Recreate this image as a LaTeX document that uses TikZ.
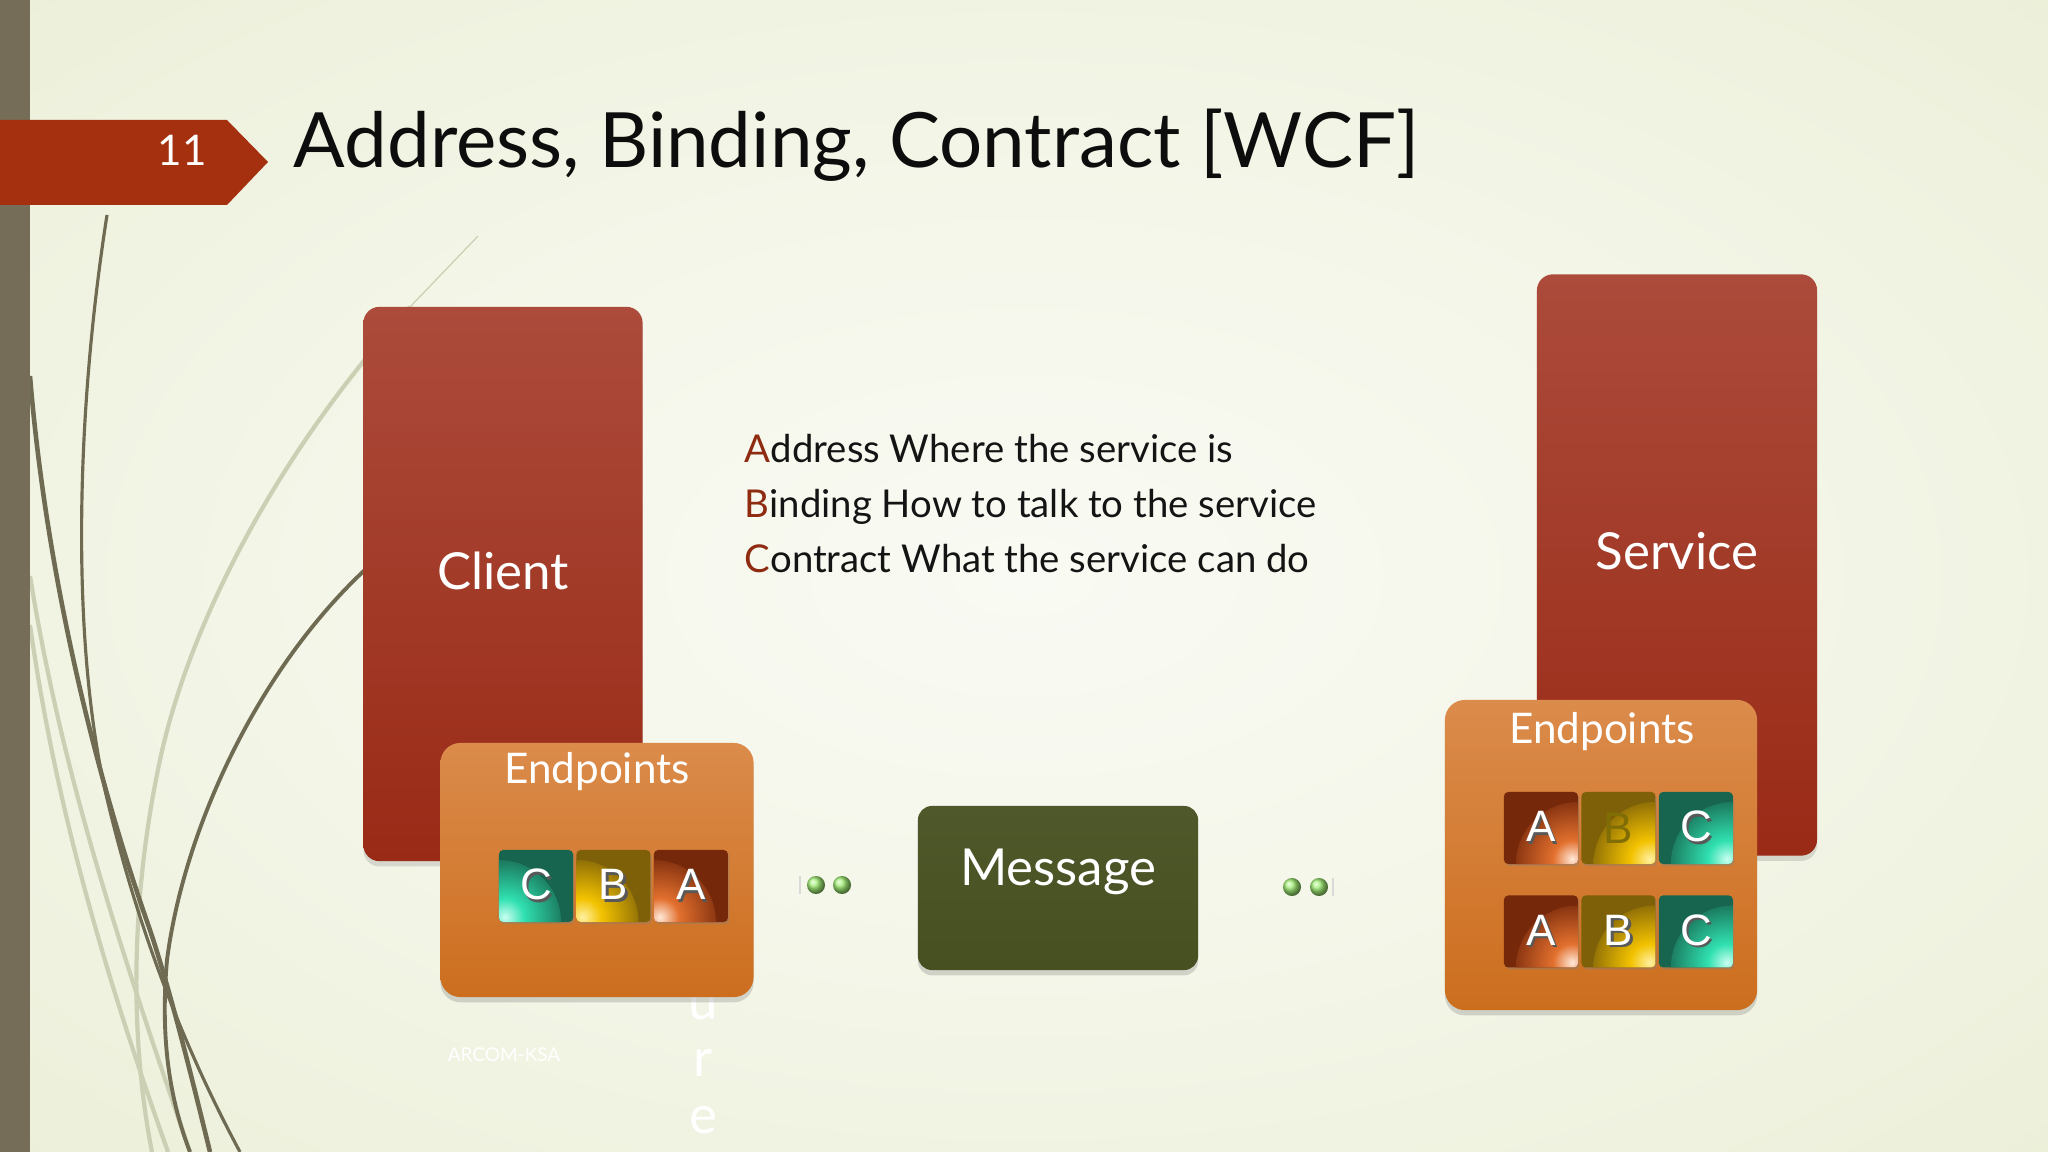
\documentclass[tikz,border=0pt]{standalone}
\usepackage{fontspec}
\setmainfont{Lato}
\newfontfamily\arialfont{Liberation Sans}
\usepackage{tikz}
\usetikzlibrary{shadows,positioning}

\definecolor{bgcenter}{HTML}{F9FAF3}
\definecolor{bginner}{HTML}{F5F7EB}
\definecolor{bgmid}{HTML}{EBEFD7}
\definecolor{bgedge}{HTML}{E0E6C2}
\definecolor{bgcorner}{HTML}{DCE3BC}
\definecolor{sidebar}{HTML}{756D57}
\definecolor{banner}{HTML}{A5300F}
\definecolor{hosttop}{HTML}{AC4B3B}
\definecolor{hostbot}{HTML}{992A16}
\definecolor{eptop}{HTML}{DB8B4B}
\definecolor{epbot}{HTML}{CC6E1E}
\definecolor{msgtop}{HTML}{4F582A}
\definecolor{msgbot}{HTML}{475020}
\definecolor{tealbase}{HTML}{17654E}
\definecolor{tealglow}{HTML}{30E0B0}
\definecolor{tealhi}{HTML}{C8FFF0}
\definecolor{olivebase}{HTML}{7E6008}
\definecolor{oliveglow}{HTML}{F2C200}
\definecolor{olivehi}{HTML}{FFF0A0}
\definecolor{brownbase}{HTML}{76280B}
\definecolor{brownglow}{HTML}{E2702E}
\definecolor{brownhi}{HTML}{FFE8D8}
\definecolor{initial}{HTML}{8E2B10}
\definecolor{dotgreen}{HTML}{A0EC74}
\definecolor{curvedark}{HTML}{6F6A52}
\definecolor{curvelight}{HTML}{CBD0B4}

\pgfdeclareradialshading{slidebg}{\pgfpoint{0bp}{0bp}}{color(0bp)=(bgcenter); color(14bp)=(bginner); color(38bp)=(bgmid); color(60bp)=(bgedge); color(72bp)=(bgcorner)}
\pgfdeclareradialshading{tealshine}{\pgfpoint{0bp}{0bp}}{color(0bp)=(tealhi); color(7bp)=(tealglow); color(24bp)=(tealbase); color(50bp)=(tealbase)}
\pgfdeclareradialshading{oliveshine}{\pgfpoint{0bp}{0bp}}{color(0bp)=(olivehi); color(7bp)=(oliveglow); color(24bp)=(olivebase); color(50bp)=(olivebase)}
\pgfdeclareradialshading{brownshine}{\pgfpoint{0bp}{0bp}}{color(0bp)=(brownhi); color(7bp)=(brownglow); color(24bp)=(brownbase); color(50bp)=(brownbase)}

\newcommand\initialof[1]{\textcolor{initial}{#1}}
\newcommand\tiletext[1]{\rlap{\kern0.7pt\raisebox{-0.7pt}{\color{black!65}#1}}#1}

\tikzset{
  hostbox/.style={rounded corners=0.16cm, top color=hosttop, bottom color=hostbot,
    drop shadow={shadow xshift=0pt, shadow yshift=-1.5pt, opacity=0.25}},
  epbox/.style={rounded corners=0.2cm, top color=eptop, bottom color=epbot,
    drop shadow={shadow xshift=0pt, shadow yshift=-1.5pt, opacity=0.3}},
  msgbox/.style={rounded corners=0.14cm, top color=msgtop, bottom color=msgbot,
    drop shadow={shadow xshift=0pt, shadow yshift=-1.5pt, opacity=0.3}},
  boxtext/.style={text=white, font=\fontsize{14.5}{17}\selectfont},
  eptext/.style={text=white, font=\fontsize{12}{14}\selectfont},
  abctext/.style={anchor=base west, text=black!92, font=\fontsize{10.9}{13}\selectfont, inner sep=0pt},
  tile/.style={minimum width=0.74cm, minimum height=0.72cm, inner sep=0pt, rounded corners=1.2pt,
    text=white, font=\arialfont\fontsize{12.5}{14}\selectfont,
    drop shadow={shadow xshift=0.4pt, shadow yshift=-0.6pt, opacity=0.35}},
  glow/.style n args={3}{fill=#1, path picture={\shade[shading=#2]
    (path picture bounding box.south #3) circle (0.62cm);}},
  dot/.style={circle, minimum size=0.18cm, inner sep=0pt, ball color=dotgreen},
  vletter/.style={text=white, font=\fontsize{15}{17}\selectfont, inner sep=0pt}
}

\begin{document}
\begin{tikzpicture}[x=0.01cm, y=-0.01cm]
  \useasboundingbox (0,0) rectangle (2048,1152);
  \shade[shading=slidebg] (0,0) rectangle (2048,1152);

  % swooshes on the left
  \draw[curvelight, line width=1.2pt] (30,576) .. controls (60,760) and (110,920) .. (190,1152);
  \draw[curvelight, line width=1.2pt] (30,625) .. controls (55,800) and (100,960) .. (168,1152);
  \draw[curvelight, line width=0.35pt] (478,236) -- (410,307);
  \draw[curvelight, line width=1.2pt] (410,307) .. controls (280,450) and (190,620) .. (160,760) .. controls (130,900) and (130,1040) .. (152,1152);
  \draw[curvedark, line width=0.9pt] (107,215) .. controls (75,420) and (72,640) .. (105,790) .. controls (135,920) and (180,1040) .. (240,1152);
  \draw[curvedark, line width=1.3pt] (30,376) .. controls (45,560) and (90,760) .. (150,930) .. controls (170,990) and (190,1070) .. (210,1152);
  \draw[curvedark, line width=1.1pt] (400,540) .. controls (270,640) and (185,820) .. (167,960) .. controls (160,1040) and (170,1100) .. (190,1152);

  \fill[sidebar] (0,0) rectangle (30,1152);
  \fill[banner] (0,120) -- (227,120) -- (268,162) -- (227,205) -- (0,205) -- cycle;
  \node[text=white, font=\fontsize{12}{14}\selectfont] (slideno) at (182,150) {11};

  \node[anchor=base west, text=black!95, font=\fontsize{21.7}{26}\selectfont, inner sep=0pt] (title) at (293,168) {Address, Binding, Contract [WCF]};

  \node[abctext] (addr) at (744,463) {\initialof{A}ddress Where the service is};
  \node[abctext] (bind) at (744,518) {\initialof{B}inding How to talk to the service};
  \node[abctext] (contr) at (744,573) {\initialof{C}ontract What the service can do};

  % client side
  \node[hostbox, minimum width=2.79cm, minimum height=5.54cm] (client) at (503,584) {};
  \node[boxtext] (clientlbl) at (503,571) {Client};
  \node[vletter] (vu) at (703,1006) {u};
  \node[epbox, minimum width=3.13cm, minimum height=2.54cm] (clientep) at (597,870) {};
  \node[eptext] (clienteplbl) at (597,772) {Endpoints};
  \node[tile, glow={tealbase}{tealshine}{west}] (cc) at (536,886) {\tiletext{C}};
  \node[tile, glow={olivebase}{oliveshine}{west}, right=0.02cm of cc] (cb) {\tiletext{B}};
  \node[tile, glow={brownbase}{brownshine}{west}, right=0.02cm of cb] (ca) {\tiletext{A}};

  % service side
  \node[hostbox, minimum width=2.8cm, minimum height=5.81cm] (service) at (1677,565) {};
  \node[boxtext] (servicelbl) at (1677,551) {Service};
  \node[epbox, minimum width=3.12cm, minimum height=3.1cm] (serviceep) at (1601,855) {};
  \node[eptext] (serviceeplbl) at (1602,732) {Endpoints};
  \node[tile, glow={brownbase}{brownshine}{east}] (sa1) at (1541,828) {\tiletext{A}};
  \node[tile, glow={olivebase}{oliveshine}{east}, right=0.02cm of sa1, text=olivebase!80!yellow!85!black] (sb1) {B};
  \node[tile, glow={tealbase}{tealshine}{east}, right=0.02cm of sb1] (sc1) {\tiletext{C}};
  \node[tile, glow={brownbase}{brownshine}{east}, below=0.3cm of sa1] (sa2) {\tiletext{A}};
  \node[tile, glow={olivebase}{oliveshine}{east}, right=0.02cm of sa2] (sb2) {\tiletext{B}};
  \node[tile, glow={tealbase}{tealshine}{east}, right=0.02cm of sb2] (sc2) {\tiletext{C}};

  % message in between
  \node[msgbox, minimum width=2.8cm, minimum height=1.64cm] (msg) at (1058,888) {};
  \node[boxtext] (msglbl) at (1058,872) {Message};

  \draw[black!15, line width=0.5pt] (800,876) -- (800,894);
  \node[dot] (dl1) at (816,885) {};
  \node[dot] (dl2) at (842,885) {};
  \node[dot] (dr1) at (1292,887) {};
  \node[dot] (dr2) at (1319,887) {};
  \draw[black!15, line width=0.5pt] (1333,878) -- (1333,896);

  \node[text=white, font=\fontsize{5.4}{7}\selectfont] (footer) at (504,1055) {ARCOM-KSA};
  \node[vletter] (vr) at (703,1063) {r};
  \node[vletter] (ve) at (703,1120) {e};
\end{tikzpicture}
\end{document}
